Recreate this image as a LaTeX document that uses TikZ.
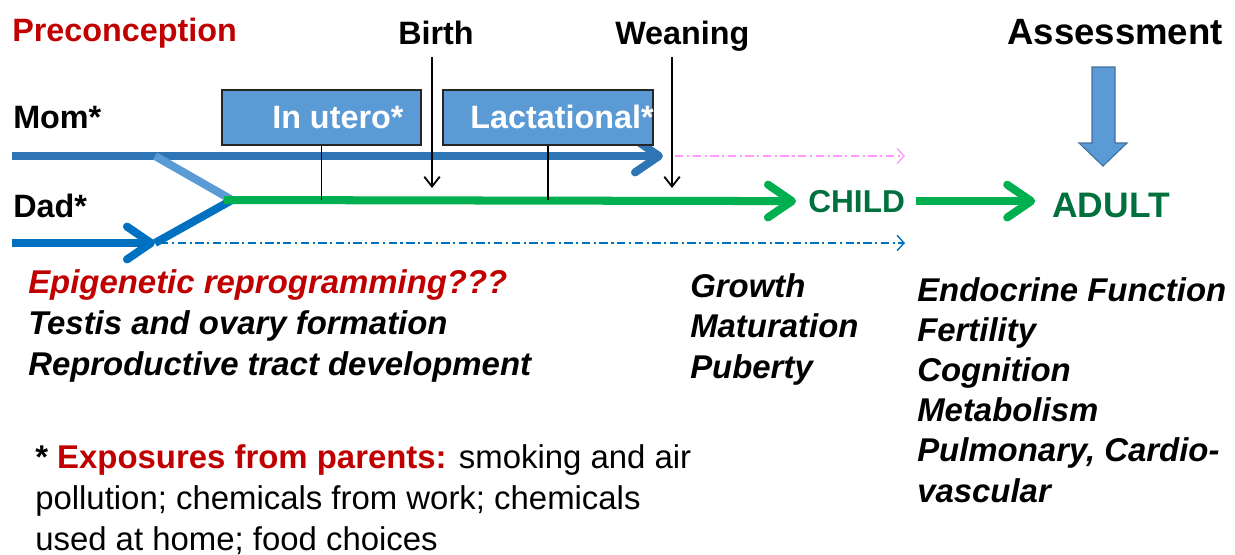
\documentclass[tikz,border=0pt]{standalone}
\usepackage{fontspec}
\setmainfont{Liberation Sans}
\usepackage{tikz}
\usetikzlibrary{arrows.meta}
\usetikzlibrary{positioning}

\definecolor{momblue}{RGB}{46,117,182}
\definecolor{lightblue}{RGB}{91,155,213}
\definecolor{dadblue}{RGB}{0,112,192}
\definecolor{edgeblue}{RGB}{65,113,156}
\definecolor{lifegreen}{RGB}{0,176,80}
\definecolor{darkgreen}{RGB}{0,112,60}
\definecolor{darkred}{RGB}{192,0,0}
\definecolor{pinkdash}{RGB}{255,153,255}

\tikzset{
  headtext/.style={font=\fontsize{23}{28}\selectfont\bfseries, anchor=base west, inner sep=0pt},
  listtext/.style={font=\fontsize{23.4}{28.5}\selectfont\bfseries\itshape, anchor=base west, inner sep=0pt, align=left},
  plaintext/.style={font=\fontsize{23.4}{29}\selectfont, anchor=base west, inner sep=0pt, align=left},
  stagebox/.style={fill=lightblue, draw=black!85, line width=0.8pt, minimum height=1.375cm, inner sep=0pt},
  lifeline/.style={line width=5.7pt},
  lifearrow/.style={line width=5.7pt, -{Straight Barb[length=0.6cm,width=0.82cm,round]}},
  dashline/.style={line width=1pt, dash pattern=on 6pt off 2.5pt on 1.5pt off 2.5pt, -{Straight Barb[length=5pt,width=11pt]}},
  tickline/.style={line width=1.3pt},
  eventarrow/.style={line width=1.3pt, -{Straight Barb[length=7pt,width=11pt]}}
}

\begin{document}
\begin{tikzpicture}[x=0.025cm,y=-0.025cm]
% Define heights of the life lines (slide pixels).
\def\momy{156}      %height of the MOM line.
\def\dady{243}      %height of the DAD line.
\def\kidy{200}      %height of the CHILD line.
\useasboundingbox (0,0) rectangle (1235,554);

% Define coordinates.
\coordinate (momstart) at (12,\momy);
\coordinate (momsplit) at (155,\momy);
\coordinate (momtip) at (663,\momy);
\coordinate (dadstart) at (12,\dady);
\coordinate (dadsplit) at (155,\dady);
\coordinate (join) at (224,\kidy);
\coordinate (joinin) at (232,\kidy);
\coordinate (pinkstart) at (675,\momy);
\coordinate (pinkend) at (905,\momy);
\coordinate (bluestart) at (160,\dady);
\coordinate (blueend) at (905,\dady);
\coordinate (birthtop) at (432,57);
\coordinate (birthtip) at (432,188);
\coordinate (weantop) at (672,57);
\coordinate (weantip) at (672,188);

% Headings
\node[headtext,text=darkred] (precon) at (12,41) {Preconception};
\node[headtext] (birth) at (398,44) {Birth};
\node[headtext] (weaning) at (615,44) {Weaning};
\node[headtext,font=\fontsize{26}{30}\selectfont\bfseries] (assess) at (1007,44) {Assessment};
\node[headtext] (mom) at (13,128) {Mom*};
\node[headtext] (dad) at (13,217) {Dad*};

% MOM
\draw[lifearrow,momblue] (momstart) -- (momtip);
\draw[lifeline,lightblue] (momsplit) -- (joinin);

% DAD
\draw[lifearrow,dadblue] (dadstart) -- (dadsplit);
\draw[lifeline,dadblue] (dadsplit) -- (joinin);

% Dotted carry-over lines
\draw[dashline,pinkdash] (pinkstart) -- (pinkend);
\draw[dashline,dadblue] (bluestart) -- (blueend);

% CHILD and ADULT
\node[headtext,text=darkgreen,font=\fontsize{22.5}{27}\selectfont\bfseries] (child) at (808,212) {CHILD};
\node[headtext,text=darkgreen,font=\fontsize{25.2}{30}\selectfont\bfseries] (adult) at (1052,217) {ADULT};
\draw[lifearrow,lifegreen] (join) -- ([xshift=-0.3cm]child.west);
\draw[lifearrow,lifegreen] ([xshift=0.28cm]child.east) -- ([xshift=-0.42cm]child.east -| adult.west);

% Stage boxes
\node[stagebox,minimum width=4.975cm] (utero) at (321.5,117.5) {};
\node[stagebox,minimum width=5.25cm] (lact) at (548,117.5) {};
\node[headtext,text=white] (uterotext) at (272,128) {In utero*};
\node[headtext,text=white] (lacttext) at (470,128) {Lactational*};
\draw[tickline] (utero.south) -- (utero.south |- join);
\draw[tickline] (lact.south) -- (lact.south |- join);

% Birth and weaning
\draw[eventarrow] (birthtop) -- (birthtip);
\draw[eventarrow] (weantop) -- (weantip);

% Assessment arrow
\draw[fill=lightblue,draw=edgeblue,line width=0.8pt] (1092,67) -- (1115,67) -- (1115,143) -- (1127,143) -- (1103,166) -- (1079,143) -- (1092,143) -- cycle;

% Lists (placed at the baseline of their last line)
\node[listtext,font=\fontsize{23.4}{29}\selectfont\bfseries\itshape] (early) at (28,375) {\textcolor{darkred}{Epigenetic reprogramming???}\\Testis and ovary formation\\Reproductive tract development};
\node[listtext] (youth) at (690,378) {Growth\\Maturation\\Puberty};
\node[listtext] (later) at (917,502) {Endocrine Function\\Fertility\\Cognition\\Metabolism\\Pulmonary, Cardio-\\vascular};
\node[plaintext] (exposure) at (35,550) {\textbf{* \textcolor{darkred}{Exposures from parents:}} smoking and air\\pollution; chemicals from work; chemicals\\used at home; food choices};

\end{tikzpicture}
\end{document}
